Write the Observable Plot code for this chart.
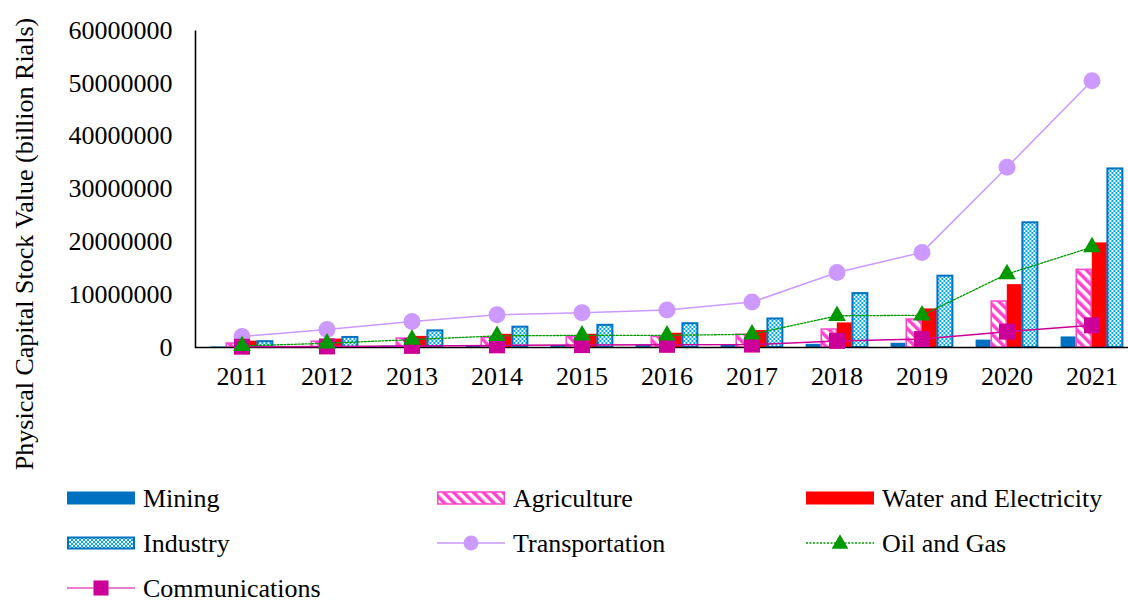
<!DOCTYPE html>
<html>
<head>
<meta charset="utf-8">
<script src="https://cdn.jsdelivr.net/npm/d3@7"></script>
<script src="https://cdn.jsdelivr.net/npm/@observablehq/plot@0.6"></script>
<style>
  html, body { margin: 0; padding: 0; background: #fff; overflow: hidden; }
  #wrap { position: relative; width: 1128px; height: 602px; background: #fff; }
  #legend { position: absolute; left: 0; top: 480px; }
  #defs { position: absolute; width: 0; height: 0; }
</style>
</head>
<body>
<svg id="defs" width="0" height="0">
  <defs>
    <pattern id="agriPat" patternUnits="userSpaceOnUse" width="7" height="7" patternTransform="rotate(-45)">
      <rect width="7" height="7" fill="#ffffff"></rect>
      <rect x="0" y="0" width="3.5" height="7" fill="#FF44CC"></rect>
    </pattern>
    <pattern id="indPat" patternUnits="userSpaceOnUse" width="4" height="4">
      <rect width="4" height="4" fill="#ffffff"></rect>
      <rect x="0" y="0" width="2" height="2" fill="#00A8EC"></rect>
      <rect x="2" y="2" width="2" height="2" fill="#00A8EC"></rect>
    </pattern>
  </defs>
</svg>
<div id="wrap">
  <div id="chart"></div>
  <svg id="legend" width="1128" height="122"></svg>
</div>
<script>
// ---- data ----
const years = ["2011","2012","2013","2014","2015","2016","2017","2018","2019","2020","2021"];
const mining         = [100000, 150000, 250000, 350000, 400000, 420000, 500000, 600000, 800000, 1400000, 2000000];
const agriculture    = [750000, 1100000, 1700000, 1800000, 2000000, 2000000, 2400000, 3400000, 5300000, 8700000, 14700000];
const waterElec      = [1200000, 1600000, 2100000, 2500000, 2500000, 2700000, 3200000, 4650000, 7300000, 11900000, 19800000];
const industry       = [1100000, 1900000, 3150000, 3850000, 4200000, 4500000, 5400000, 10200000, 13500000, 23600000, 33800000];
const transportation = [2100000, 3400000, 4900000, 6200000, 6600000, 7100000, 8600000, 14200000, 18000000, 34100000, 50500000];
const oilGas         = [300000, 800000, 1500000, 2200000, 2300000, 2300000, 2500000, 6000000, 6100000, 13900000, 19000000];
const communications = [150000, 200000, 300000, 400000, 450000, 500000, 550000, 1250000, 1600000, 3000000, 4200000];
const yTicks = [0, 10000000, 20000000, 30000000, 40000000, 50000000, 60000000];
const yTitle = "Physical Capital Stock Value (billion Rials)";
const legendNames = ["Mining","Agriculture","Water and Electricity","Industry","Transportation","Oil and Gas","Communications"];

const rows = vals => years.map((y, i) => ({year: y, value: vals[i]}));

// layout/style constants
const W = 1128, H = 480, mL = 195, mT = 30, mB = 133;
const FONT = "'Liberation Serif', 'Times New Roman', Times, serif";
const bandStart = 195, bandEnd = 1137;
const bandW = (bandEnd - bandStart) / years.length;
const barW = 15.6;
const inset = (bandW - barW) / 2;
const frameW = W - mL, frameH = H - mT - mB;

const barOpts = (dx, extra) => Object.assign({x: "year", y: "value", insetLeft: inset, insetRight: inset, dx}, extra);

const chart = Plot.plot({
  width: W, height: H,
  marginLeft: mL, marginRight: 0, marginTop: mT, marginBottom: mB,
  style: {fontFamily: FONT, fontSize: "26px", color: "#000", background: "transparent", overflow: "visible"},
  x: {type: "band", domain: years, range: [bandStart, bandEnd], padding: 0},
  y: {domain: [0, 60000000]},
  marks: [
    Plot.barY(rows(mining), barOpts(-1.5 * barW, {fill: "#0070C0"})),
    Plot.barY(rows(agriculture), barOpts(-0.5 * barW, {fill: "url(#agriPat)", stroke: "#FF44CC", strokeWidth: 1.5})),
    Plot.barY(rows(waterElec), barOpts(0.5 * barW, {fill: "#FF0000"})),
    Plot.barY(rows(industry), barOpts(1.5 * barW, {fill: "url(#indPat)", stroke: "#0070C0", strokeWidth: 2})),
    Plot.frame({stroke: "#000", strokeWidth: 1.6, strokeDasharray: `0 ${frameW + frameH} ${frameW + frameH}`}),
    Plot.line(rows(transportation), {x: "year", y: "value", stroke: "#CC99FF", strokeWidth: 1.5}),
    Plot.dot(rows(transportation), {x: "year", y: "value", fill: "#CC99FF", r: 8.5, symbol: "circle"}),
    Plot.line(rows(communications), {x: "year", y: "value", stroke: "#CC0099", strokeWidth: 1.5}),
    Plot.dot(rows(communications), {x: "year", y: "value", fill: "#CC0099", r: 9, symbol: "square"}),
    Plot.line(rows(oilGas), {x: "year", y: "value", stroke: "#009900", strokeWidth: 1.3, strokeDasharray: "2 1.5"}),
    Plot.dot(rows(oilGas), {x: "year", y: "value", fill: "#009900", r: 6.6, symbol: "triangle"}),
    Plot.axisX({tickSize: 0, tickPadding: 19, label: null, fontSize: 26}),
    Plot.axisY({ticks: yTicks, tickSize: 0, tickPadding: 23, tickFormat: d => String(d), label: null, fontSize: 26})
  ]
});
document.getElementById("chart").appendChild(chart);

// y-axis title (rotated), centred on the chart's full height as in the reference
d3.select(chart).append("text")
  .attr("transform", "translate(33,244) rotate(-90)")
  .attr("text-anchor", "middle")
  .attr("font-family", FONT).attr("font-size", 26).attr("fill", "#000")
  .text(yTitle);

// ---- legend ----
const lg = d3.select("#legend");
const colX = [67, 437, 806];
const rowY = [18, 63, 108];
const swW = 68;
const sym = (type, r) => d3.symbol(type, r * r * Math.PI)();
const legendSwatch = [
  g => g.append("rect").attr("x", 0).attr("y", -6.5).attr("width", swW).attr("height", 13).attr("fill", "#0070C0"),
  g => g.append("rect").attr("x", 0.75).attr("y", -6).attr("width", swW - 1.5).attr("height", 12).attr("fill", "url(#agriPat)").attr("stroke", "#FF44CC").attr("stroke-width", 1.5),
  g => g.append("rect").attr("x", 0).attr("y", -6.5).attr("width", swW).attr("height", 13).attr("fill", "#FF0000"),
  g => g.append("rect").attr("x", 1).attr("y", -5.5).attr("width", swW - 2).attr("height", 11).attr("fill", "url(#indPat)").attr("stroke", "#0070C0").attr("stroke-width", 2),
  g => { g.append("line").attr("x1", 0).attr("x2", swW).attr("stroke", "#CC99FF").attr("stroke-width", 1.5);
         g.append("path").attr("transform", `translate(${swW/2},0)`).attr("d", sym(d3.symbolCircle, 7.5)).attr("fill", "#CC99FF"); },
  g => { g.append("line").attr("x1", 0).attr("x2", swW).attr("stroke", "#009900").attr("stroke-width", 1.3).attr("stroke-dasharray", "2 1.5");
         g.append("path").attr("transform", `translate(${swW/2},1)`).attr("d", sym(d3.symbolTriangle, 6.2)).attr("fill", "#009900"); },
  g => { g.append("line").attr("x1", 0).attr("x2", swW).attr("stroke", "#E055C0").attr("stroke-width", 1.5);
         g.append("path").attr("transform", `translate(${swW/2},0)`).attr("d", sym(d3.symbolSquare, 8.5)).attr("fill", "#CC0099"); }
];
legendNames.forEach((name, i) => {
  const g = lg.append("g").attr("transform", `translate(${colX[i % 3]},${rowY[Math.floor(i / 3)]})`);
  legendSwatch[i](g);
  g.append("text").attr("x", 76).attr("y", 8.6)
    .attr("font-family", FONT).attr("font-size", 26).attr("fill", "#000").text(name);
});
</script>
</body>
</html>
